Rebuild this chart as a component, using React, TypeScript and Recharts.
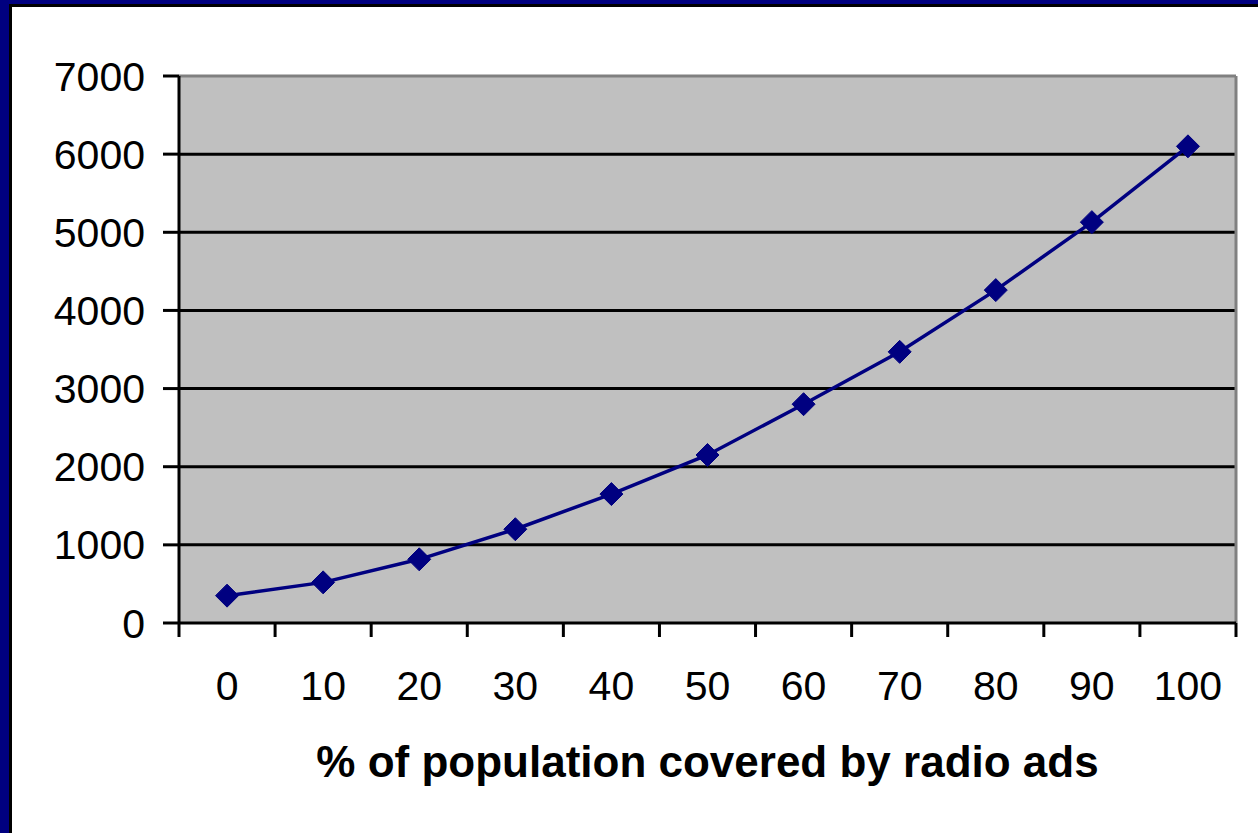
import { LineChart, Line, XAxis, YAxis, CartesianGrid, ReferenceLine } from 'recharts';

const coverage = [0, 10, 20, 30, 40, 50, 60, 70, 80, 90, 100];
const cost = [350, 520, 815, 1200, 1650, 2150, 2800, 3470, 4260, 5130, 6100];
const yTicks = [0, 1000, 2000, 3000, 4000, 5000, 6000, 7000];
const gridValues = [1000, 2000, 3000, 4000, 5000, 6000];
// category boundaries, so tick marks fall between the labels
const boundaryTicks = [-5, 5, 15, 25, 35, 45, 55, 65, 75, 85, 95, 105];

const data = coverage.map((x, i) => ({ x, cost: cost[i] }));

const NAVY = '#000080';
const FONT = '"Liberation Sans", Arial, sans-serif';

function Diamond(props: any) {
  const { cx, cy } = props;
  if (cx == null || cy == null) return null;
  const r = 11.5;
  return (
    <path
      d={`M${cx},${cy - r} L${cx + r},${cy} L${cx},${cy + r} L${cx - r},${cy} Z`}
      fill={NAVY}
      stroke={NAVY}
      strokeWidth={1}
    />
  );
}

export default function App() {
  return (
    <div style={{ position: 'absolute', left: 0, top: 0, width: 1258, height: 833, background: '#fff' }}>
      {/* slide frame, only left and top edges are visible in the crop */}
      <div
        style={{
          position: 'absolute', left: 0, top: 0, width: 1258, height: 833, boxSizing: 'border-box',
          borderLeft: `9px solid ${NAVY}`, borderTop: `4px solid ${NAVY}`,
        }}
      >
        <div
          style={{
            position: 'absolute', left: 0, top: 0, right: 0, bottom: 0,
            borderLeft: '3px solid #000', borderTop: '3px solid #000',
          }}
        />
      </div>
      <div style={{ position: 'absolute', left: 0, top: 0 }}>
        <LineChart
          width={1258}
          height={833}
          data={data}
          margin={{ top: 76, right: 22, left: 0, bottom: 0 }}
          style={{ fontFamily: FONT }}
        >
          <CartesianGrid
            xAxisId="a"
            vertical={false}
            horizontalValues={gridValues}
            stroke="#000"
            strokeWidth={3}
            fill="#C0C0C0"
            fillOpacity={1}
          />
          <XAxis
            xAxisId="a"
            type="number"
            dataKey="x"
            domain={[-5, 105]}
            ticks={boundaryTicks}
            interval={0}
            tickFormatter={() => ''}
            tickSize={14}
            height={14}
            axisLine={{ stroke: '#000', strokeWidth: 3 }}
            tickLine={{ stroke: '#000', strokeWidth: 3 }}
          />
          <XAxis
            xAxisId="b"
            type="number"
            dataKey="x"
            domain={[-5, 105]}
            ticks={coverage}
            interval={0}
            axisLine={false}
            tickLine={false}
            tickSize={0}
            tickMargin={34}
            height={196}
            tick={{ fill: '#000', fontSize: 41, fontFamily: FONT }}
            label={{
              value: '% of population covered by radio ads',
              position: 'insideBottom',
              offset: 56,
              fill: '#000',
              fontSize: 44,
              fontWeight: 'bold',
              fontFamily: FONT,
            }}
          />
          <YAxis
            type="number"
            domain={[0, 7000]}
            ticks={yTicks}
            interval={0}
            width={179}
            tickSize={16}
            tickMargin={18}
            axisLine={{ stroke: '#000', strokeWidth: 3 }}
            tickLine={{ stroke: '#000', strokeWidth: 3 }}
            tick={{ fill: '#000', fontSize: 41, fontFamily: FONT }}
          />
          <ReferenceLine y={7000} xAxisId="a" stroke="#808080" strokeWidth={3} />
          <ReferenceLine x={105} xAxisId="a" stroke="#808080" strokeWidth={3} />
          <Line
            xAxisId="a"
            type="linear"
            dataKey="cost"
            stroke={NAVY}
            strokeWidth={3.5}
            dot={<Diamond />}
            activeDot={false}
            isAnimationActive={false}
          />
        </LineChart>
      </div>
    </div>
  );
}
